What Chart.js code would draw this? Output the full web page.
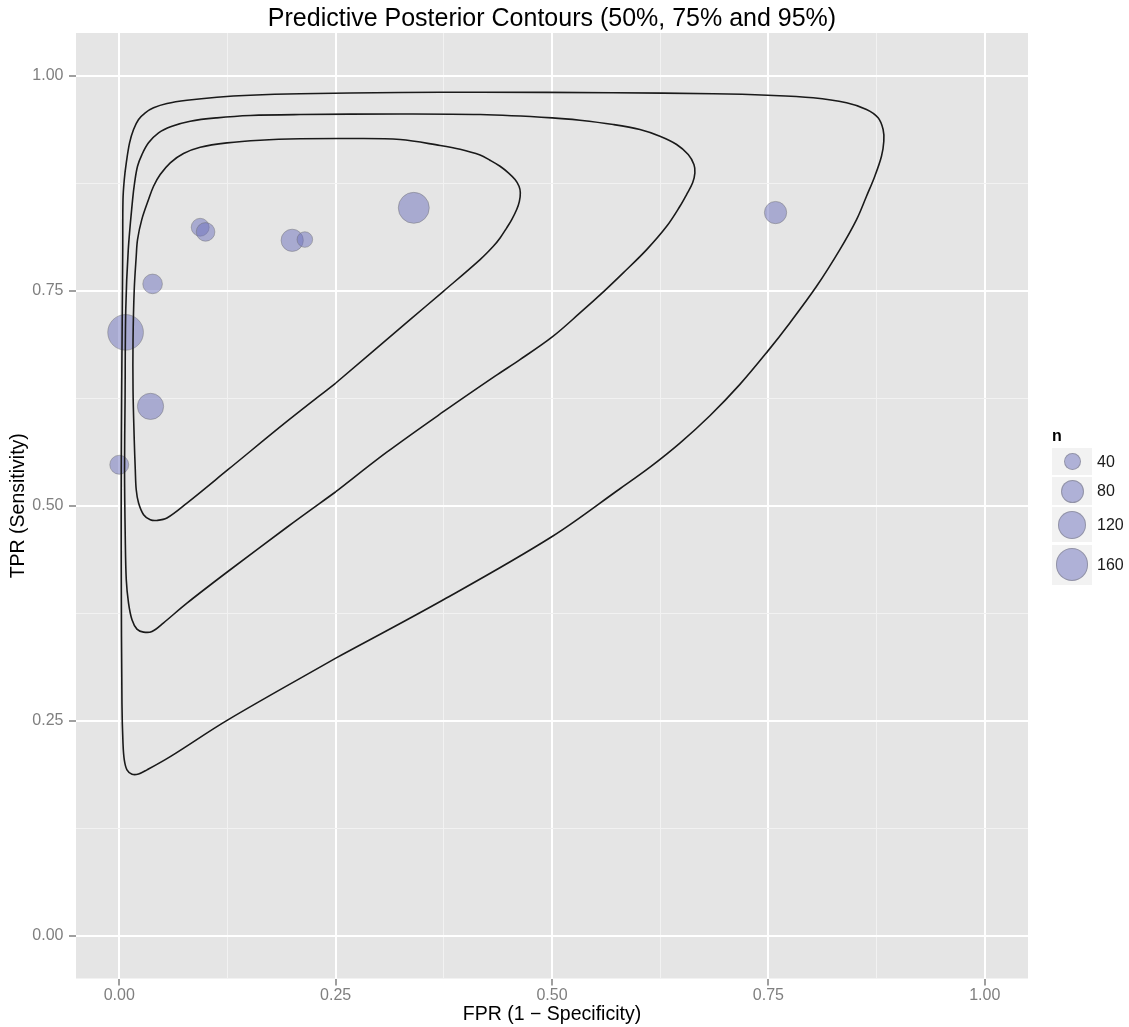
<!DOCTYPE html>
<html>
<head>
<meta charset="utf-8">
<title>Predictive Posterior Contours</title>
<script src="https://cdn.jsdelivr.net/npm/chart.js@4.4.1/dist/chart.umd.min.js"></script>
<style>
  html, body { margin: 0; padding: 0; background: #ffffff; }
  #wrap { position: relative; width: 1129px; height: 1027px; font-family: "Liberation Sans", Arial, Helvetica, sans-serif; }
  #plot { position: absolute; left: 0; top: 0; }
  #title { position: absolute; left: 76px; width: 952px; top: 3px; text-align: center;
           font-size: 25px; line-height: 28px; color: #000; white-space: nowrap; }
  #legend { position: absolute; left: 1052px; top: 427px; width: 77px; }
  #legend .ltitle { font-size: 16px; font-weight: bold; line-height: 18px; color: #000; }
  .lkey { position: absolute; left: 0; width: 40.4px; background: #f2f2f2; }
  .ldot { position: absolute; border-radius: 50%; box-sizing: border-box;
          background: rgba(107,111,187,0.5); border: 1px solid rgba(110,110,110,0.45); }
  .llab { position: absolute; left: 45px; font-size: 16px; line-height: 18px; color: #1a1a1a; }
</style>
</head>
<body>
<div id="wrap">
  <canvas id="plot" width="1129" height="1027"></canvas>
  <div id="title">Predictive Posterior Contours (50%, 75% and 95%)</div>
  <div id="legend"><div class="ltitle">n</div></div>
</div>
<script>
// Study summaries: false positive rate, true positive rate and sample size
const fpr    = [0.0000, 0.0073, 0.0361, 0.0385, 0.0935, 0.0997, 0.1998, 0.2144, 0.3403, 0.7583];
const tpr    = [0.5477, 0.7017, 0.6156, 0.7581, 0.8240, 0.8186, 0.8088, 0.8097, 0.8466, 0.8411];
const nStudy = [52, 194, 103, 56, 46, 50, 73, 34, 145, 73];

// 50% predictive contour (closed path, traced from the lower branch)
const c50Fpr = [0.2502, 0.1937, 0.1255, 0.0782, 0.0551, 0.0435, 0.0358, 0.0281, 0.0223, 0.0196,
                0.0185, 0.0173, 0.0159, 0.0159, 0.0173, 0.0196, 0.0211, 0.0260, 0.0338, 0.0396,
                0.0473, 0.0589, 0.0742, 0.0935, 0.1244, 0.1628, 0.2090, 0.2667, 0.3245, 0.3707,
                0.3938, 0.4169, 0.4284, 0.4400, 0.4496, 0.4573, 0.4619, 0.4634, 0.4623, 0.4592,
                0.4535, 0.4477, 0.4400, 0.4322, 0.4169, 0.3745, 0.3360];
const c50Tpr = [0.6428, 0.5981, 0.5419, 0.5031, 0.4857, 0.4829, 0.4837, 0.4895, 0.5031, 0.5186,
                0.5419, 0.5768, 0.6350, 0.6932, 0.7515, 0.7902, 0.8097, 0.8329, 0.8562, 0.8717,
                0.8853, 0.8990, 0.9098, 0.9171, 0.9222, 0.9253, 0.9269, 0.9273, 0.9261, 0.9191,
                0.9147, 0.9080, 0.9020, 0.8950, 0.8873, 0.8795, 0.8717, 0.8640, 0.8542, 0.8446,
                0.8329, 0.8233, 0.8116, 0.8019, 0.7864, 0.7495, 0.7165];

// 75% predictive contour
const c75Fpr = [0.2502, 0.1937, 0.1255, 0.0782, 0.0512, 0.0378, 0.0281, 0.0204, 0.0147, 0.0107,
                0.0081, 0.0069, 0.0061, 0.0067, 0.0075, 0.0104, 0.0154, 0.0177, 0.0211, 0.0262,
                0.0338, 0.0454, 0.0609, 0.0820, 0.1128, 0.1513, 0.2090, 0.3245, 0.4169, 0.5003,
                0.5323, 0.5708, 0.6016, 0.6247, 0.6440, 0.6574, 0.6640, 0.6651, 0.6625, 0.6555,
                0.6478, 0.6325, 0.6094, 0.5823, 0.5612, 0.5323, 0.5003, 0.4630, 0.4342, 0.3745,
                0.3091];
const c75Tpr = [0.5163, 0.4750, 0.4235, 0.3867, 0.3638, 0.3537, 0.3530, 0.3565, 0.3673, 0.3867,
                0.4139, 0.4643, 0.5419, 0.6234, 0.7282, 0.7980, 0.8562, 0.8757, 0.8950, 0.9086,
                0.9222, 0.9339, 0.9415, 0.9474, 0.9513, 0.9540, 0.9551, 0.9558, 0.9551, 0.9513,
                0.9485, 0.9435, 0.9377, 0.9299, 0.9203, 0.9086, 0.8970, 0.8873, 0.8757, 0.8621,
                0.8484, 0.8251, 0.7980, 0.7709, 0.7506, 0.7243, 0.6964, 0.6700, 0.6508, 0.6094,
                0.5623];

// 95% predictive contour
const c95Fpr = [0.2502, 0.1255, 0.0589, 0.0320, 0.0223, 0.0147, 0.0089, 0.0058, 0.0043, 0.0031,
                0.0023, 0.0023, 0.0027, 0.0035, 0.0040, 0.0043, 0.0058, 0.0081, 0.0119, 0.0165,
                0.0223, 0.0300, 0.0396, 0.0551, 0.0782, 0.1128, 0.1513, 0.2090, 0.3245, 0.4169,
                0.5708, 0.6863, 0.7491, 0.8017, 0.8403, 0.8634, 0.8768, 0.8826, 0.8834, 0.8807,
                0.8730, 0.8634, 0.8519, 0.8326, 0.8057, 0.7748, 0.7491, 0.7171, 0.6824, 0.6478,
                0.6132, 0.5785, 0.4997, 0.3745];
const c95Tpr = [0.3227, 0.2509, 0.2081, 0.1927, 0.1880, 0.1877, 0.1927, 0.2043, 0.2237, 0.2703,
                0.4255, 0.5419, 0.6234, 0.7282, 0.7980, 0.8562, 0.8795, 0.8989, 0.9222, 0.9377,
                0.9494, 0.9572, 0.9630, 0.9680, 0.9718, 0.9753, 0.9776, 0.9793, 0.9808, 0.9811,
                0.9805, 0.9793, 0.9776, 0.9746, 0.9688, 0.9610, 0.9513, 0.9377, 0.9241, 0.9066,
                0.8834, 0.8601, 0.8329, 0.7980, 0.7553, 0.7127, 0.6796, 0.6412, 0.6047, 0.5729,
                0.5449, 0.5198, 0.4639, 0.3906];

// Legend sizes and axis ticks
const legendSizes = [40, 80, 120, 160];
const majorTicks = [0, 0.25, 0.5, 0.75, 1];
const majorTickLabels = ['0.00', '0.25', '0.50', '0.75', '1.00'];
const minorTicks = [0.125, 0.375, 0.625, 0.875];

const FONT = '"Liberation Sans", Arial, Helvetica, sans-serif';
const DOT_FILL = 'rgba(107,111,187,0.5)';
const DOT_EDGE = 'rgba(110,110,110,0.45)';

// point radius (px) grows with the square root of the sample size
function radiusFor(n) { return Math.sqrt(1.61 * n + 6.3); }

function closedPath(xs, ys) {
  const pts = xs.map((x, i) => ({ x: x, y: ys[i] }));
  pts.push({ x: xs[0], y: ys[0] });
  return pts;
}

const allTicks = majorTicks.concat(minorTicks).sort((a, b) => a - b);
const isMajor = v => majorTicks.indexOf(v) !== -1;
const tickLabel = v => { const i = majorTicks.indexOf(v); return i === -1 ? '' : majorTickLabels[i]; };

function contourSet(xs, ys) {
  return {
    type: 'scatter',
    data: closedPath(xs, ys),
    showLine: true,
    borderColor: '#1a1a1a',
    borderWidth: 1.6,
    pointRadius: 0,
    pointHoverRadius: 0,
    tension: 0.35,
    fill: false
  };
}

const bubbles = {
  type: 'bubble',
  data: fpr.map((x, i) => ({ x: x, y: tpr[i], r: radiusFor(nStudy[i]) })),
  backgroundColor: DOT_FILL,
  borderColor: DOT_EDGE,
  borderWidth: 1
};

// grey panel behind the grid
const panelBackground = {
  id: 'panelBackground',
  beforeDraw(chart) {
    const a = chart.chartArea, ctx = chart.ctx;
    ctx.save();
    ctx.fillStyle = '#e5e5e5';
    ctx.fillRect(a.left, a.top, a.right - a.left, a.bottom - a.top);
    ctx.restore();
  }
};

function axisOptions(titleText, titlePadding, fitFn) {
  return {
    type: 'linear',
    min: -0.05,
    max: 1.05,
    afterBuildTicks: s => { s.ticks = allTicks.map(v => ({ value: v })); },
    afterFit: fitFn,
    border: { display: false },
    grid: {
      drawOnChartArea: true,
      drawTicks: true,
      color: c => (c.tick && isMajor(c.tick.value)) ? '#ffffff' : '#f2f2f2',
      lineWidth: c => (c.tick && isMajor(c.tick.value)) ? 2 : 1,
      tickColor: c => (c.tick && isMajor(c.tick.value)) ? '#7f7f7f' : 'rgba(0,0,0,0)',
      tickLength: 7,
      tickWidth: 1.5
    },
    ticks: {
      autoSkip: false,
      maxRotation: 0,
      color: '#7f7f7f',
      font: { family: FONT, size: 16 },
      callback: v => tickLabel(v)
    },
    title: {
      display: true,
      text: titleText,
      color: '#000000',
      font: { family: FONT, size: 19.5 },
      padding: titlePadding
    }
  };
}

const xAxis = axisOptions('FPR (1 \u2212 Specificity)', { top: 0, bottom: 1 }, s => { s.height = 48.5; });
xAxis.ticks.padding = 0;
const yAxis = axisOptions('TPR (Sensitivity)', { top: 7, bottom: 0 }, s => { s.width = 76; });
yAxis.ticks.padding = 5.5;

new Chart(document.getElementById('plot'), {
  type: 'scatter',
  data: {
    datasets: [
      contourSet(c50Fpr, c50Tpr),
      contourSet(c75Fpr, c75Tpr),
      contourSet(c95Fpr, c95Tpr),
      bubbles
    ]
  },
  options: {
    responsive: false,
    devicePixelRatio: 1,
    animation: false,
    events: [],
    layout: { padding: { left: 0, right: 101, top: 33, bottom: 0 } },
    plugins: {
      legend: { display: false },
      title: { display: false },
      tooltip: { enabled: false }
    },
    scales: { x: xAxis, y: yAxis }
  },
  plugins: [panelBackground]
});

// size legend
(function buildLegend() {
  const box = document.getElementById('legend');
  let top = 21.3;
  legendSizes.forEach(n => {
    const d = 2 * radiusFor(n);
    const h = Math.max(26.5, 1.35 * d - 3.5);
    const key = document.createElement('div');
    key.className = 'lkey';
    key.style.top = top + 'px';
    key.style.height = h + 'px';
    const dot = document.createElement('div');
    dot.className = 'ldot';
    dot.style.width = d + 'px';
    dot.style.height = d + 'px';
    dot.style.left = (20.2 - d / 2) + 'px';
    dot.style.top = (h / 2 - d / 2) + 'px';
    key.appendChild(dot);
    box.appendChild(key);
    const lab = document.createElement('div');
    lab.className = 'llab';
    lab.textContent = String(n);
    lab.style.top = (top + h / 2 - 9) + 'px';
    box.appendChild(lab);
    top += h + 2.4;
  });
})();
</script>
</body>
</html>
